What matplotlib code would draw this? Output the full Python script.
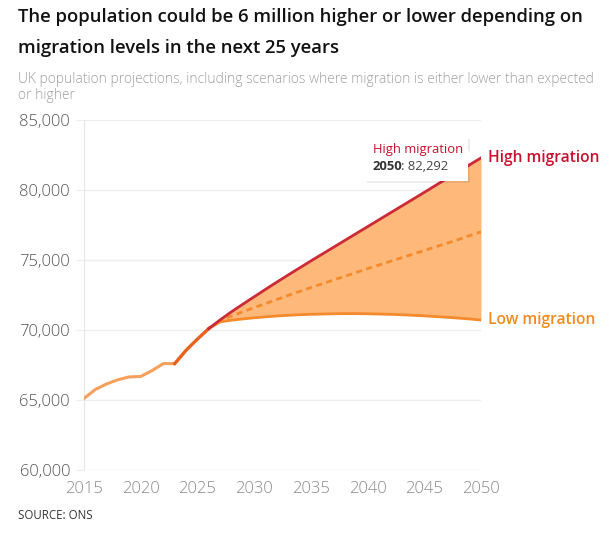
import matplotlib
matplotlib.use("Agg")
from matplotlib import pyplot as plt
from matplotlib.ticker import FuncFormatter
from matplotlib.patches import Rectangle, Polygon
from matplotlib.transforms import IdentityTransform

# Historic population (thousands)
hist_years = [2015, 2016, 2017, 2018, 2019, 2020, 2021, 2022, 2023]
hist_values = [65110, 65750, 66150, 66450, 66650, 66680, 67100, 67600, 67600]

# Shared projection start
common_years = [2023, 2024, 2025, 2026]
common_values = [67600, 68550, 69350, 70100]

# Scenarios 2026-2050
proj_years = list(range(2026, 2051))
high_values = [70100, 70720, 71300, 71840, 72370, 72900, 73420, 73930, 74430,
               74930, 75420, 75910, 76400, 76890, 77380, 77870, 78360, 78850,
               79340, 79830, 80330, 80820, 81310, 81800, 82292]
principal_values = [70100, 70680, 71000, 71300, 71600, 71890, 72180, 72470,
                    72750, 73030, 73300, 73570, 73840, 74110, 74380, 74640,
                    74900, 75160, 75420, 75680, 75940, 76200, 76460, 76740, 77010]
low_values = [70100, 70580, 70700, 70790, 70870, 70940, 71000, 71050, 71090,
              71120, 71140, 71160, 71170, 71170, 71160, 71140, 71120, 71090,
              71050, 71010, 70960, 70910, 70850, 70790, 70710]

x_ticks = [2015, 2020, 2025, 2030, 2035, 2040, 2045, 2050]
y_ticks = [60000, 65000, 70000, 75000, 80000, 85000]

RED = "#cc2a36"
RED_TEXT = "#c8102e"
ORANGE = "#f58a2c"
ORANGE_TEXT = "#f08a1f"
BAND = "#fdb87a"
HIST = "#f6a05c"
DARK_ORANGE = "#e8621e"

plt.rcParams["font.family"] = ["Open Sans", "DejaVu Sans"]

fig = plt.figure(figsize=(6.09, 5.35), dpi=100)
ax = fig.add_axes([0.1379, 0.1215, 0.6519, 0.6542])
ax.set_axisbelow(True)

# Band between low and high scenario
ax.fill_between(proj_years, low_values, high_values, color=BAND, lw=0, zorder=1)

ax.plot(hist_years, hist_values, color=HIST, lw=2.2, zorder=3,
        solid_capstyle="round")
ax.plot(common_years, common_values, color=DARK_ORANGE, lw=2.4, zorder=4)
ax.plot(proj_years, low_values, color=ORANGE, lw=2.0, zorder=3)
ax.plot(proj_years, principal_values, color=ORANGE, lw=2.0, ls=(0, (2.2, 1.6)),
        zorder=3)
ax.plot(proj_years, high_values, color=RED, lw=2.0, zorder=4)

ax.set_xlim(2015, 2050)
ax.set_ylim(60000, 85000)
ax.set_xticks(x_ticks)
ax.set_yticks(y_ticks)
ax.yaxis.set_major_formatter(FuncFormatter(lambda v, p: f"{int(v):,}"))
ax.grid(axis="y", color="#eeeeee", lw=1, zorder=0)
ax.tick_params(axis="y", length=6, color="#eeeeee", labelsize=12,
               labelcolor="#555555", pad=4)
ax.tick_params(axis="x", length=0, labelsize=12, labelcolor="#8a8a8a", pad=8)
for lbl in ax.get_xticklabels() + ax.get_yticklabels():
    lbl.set_fontweight("light")
for side in ["top", "right", "bottom"]:
    ax.spines[side].set_visible(False)
ax.spines["left"].set_color("#e6e6e6")

# End labels
ax.annotate("High migration", xy=(proj_years[-1], high_values[-1]),
            xytext=(7, 0), textcoords="offset pixels", va="center", ha="left",
            color=RED_TEXT, fontsize=11.2, fontweight="semibold",
            annotation_clip=False)
ax.annotate("Low migration", xy=(proj_years[-1], low_values[-1]),
            xytext=(7, 0), textcoords="offset pixels", va="center", ha="left",
            color=ORANGE_TEXT, fontsize=11.2, fontweight="semibold",
            annotation_clip=False)

# Tooltip (box drawn in display pixels, anchored to the last high point)
anchor = (proj_years[-1], high_values[-1])
px, py = ax.transData.transform(anchor)
shadow = Rectangle((px - 114, py - 25), 103, 44, transform=IdentityTransform(),
                   fc="#000000", alpha=0.07, ec="none", zorder=5, clip_on=False)
box = Rectangle((px - 116, py - 23), 103, 44, transform=IdentityTransform(),
                fc="white", ec="none", zorder=6, clip_on=False)
pointer = Polygon([(px - 14, py + 8), (px - 14, py - 6), (px - 5, py + 1)],
                  closed=True, transform=IdentityTransform(), fc="white",
                  ec="none", zorder=6, clip_on=False)
for patch in [shadow, box, pointer]:
    ax.add_artist(patch)
ax.annotate("High migration", xy=anchor, xytext=(-108, 8),
            textcoords="offset pixels", color=RED_TEXT, fontsize=9.4, zorder=7,
            va="center", annotation_clip=False)
ax.annotate("2050", xy=anchor, xytext=(-108, -9),
            textcoords="offset pixels", color="#333333", fontsize=9.4,
            fontweight="bold", zorder=7, va="center", annotation_clip=False)
ax.annotate(": 82,292", xy=anchor, xytext=(-80, -9),
            textcoords="offset pixels", color="#444444", fontsize=9.4, zorder=7,
            va="center", annotation_clip=False)

# Titles
fig.text(0.03, 0.968, "The population could be 6 million higher or lower depending on",
         fontsize=13.3, fontweight="semibold", color="#111111", va="center")
fig.text(0.03, 0.911, "migration levels in the next 25 years",
         fontsize=13.3, fontweight="semibold", color="#111111", va="center")
fig.text(0.03, 0.851, "UK population projections, including scenarios where migration is either lower than expected",
         fontsize=10.0, color="#a0a0a0", va="center", fontweight="light")
fig.text(0.03, 0.822, "or higher",
         fontsize=10.0, color="#a0a0a0", va="center", fontweight="light")
fig.text(0.03, 0.037, "SOURCE: ONS", fontsize=8.3, color="#333333", va="center")

fig.savefig("out.png", dpi=100)
